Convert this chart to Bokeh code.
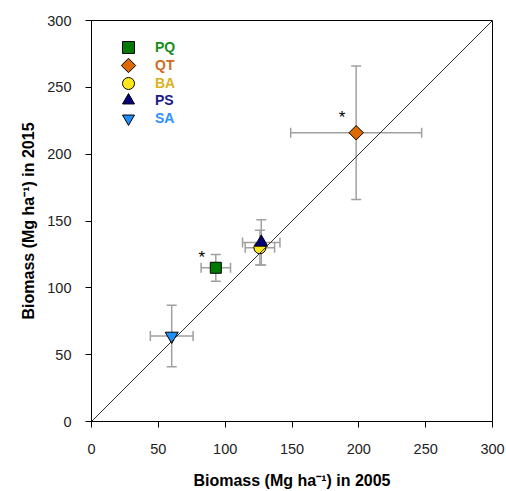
import math
from bokeh.plotting import figure
from bokeh.models import (ColumnDataSource, Range1d, FixedTicker, Whisker, TeeHead,
                          Slope, Legend, LegendItem)
from bokeh.embed import file_html
from bokeh.resources import INLINE
from bokeh.core.properties import value

# ---- data ----
groups = ["PQ", "QT", "BA", "PS", "SA"]
biomass_2005 = [93, 198, 126, 127, 60]
biomass_2015 = [115, 216, 130, 134, 64]
err_2005 = [11, 49, 11, 14, 16]
err_2015 = [10, 50, 13, 17, 23]
signif = ["*", "*", "", "", ""]
ticks = [0, 50, 100, 150, 200, 250, 300]

# ---- styles ----
markers = ["square", "diamond", "circle", "triangle", "inverted_triangle"]
sizes = [11, 15, 12, 13, 13]
fills = ["#007A00", "#DC6A00", "#FFE81A", "#00007A", "#1E8FFF"]
text_colors = ["#1A8C1A", "#D2691E", "#D9B21C", "#1A1A8C", "#2E8FFF"]
star_dx = [-14, -14, 0, 0, 0]
star_dy = [-10, -15, 0, 0, 0]
FONT = "Liberation Sans"
ERR = "#A0A0A0"

src = ColumnDataSource(dict(
    x=biomass_2005, y=biomass_2015,
    xl=[a - e for a, e in zip(biomass_2005, err_2005)],
    xu=[a + e for a, e in zip(biomass_2005, err_2005)],
    yl=[a - e for a, e in zip(biomass_2015, err_2015)],
    yu=[a + e for a, e in zip(biomass_2015, err_2015)],
    star=signif, dx=star_dx, dy=star_dy,
))

p = figure(width=506, height=491, output_backend="svg", toolbar_location=None,
           x_range=Range1d(0, 300), y_range=Range1d(0, 300),
           min_border_left=91, min_border_right=14, min_border_top=20, min_border_bottom=70)
p.background_fill_color = "white"
p.border_fill_color = "white"
p.outline_line_color = "black"
p.outline_line_width = 1
p.grid.visible = False

for ax in (p.xaxis[0], p.yaxis[0]):
    ax.ticker = FixedTicker(ticks=ticks)
    ax.minor_tick_line_color = None
    ax.major_tick_in = 0
    ax.major_tick_out = 6
    ax.axis_line_color = "black"
    ax.major_tick_line_color = "black"
    ax.major_label_text_font = FONT
    ax.major_label_text_font_size = "14.5px"
    ax.major_label_text_color = "#222222"
    ax.axis_label_text_font = FONT
    ax.axis_label_text_font_size = "16px"
    ax.axis_label_text_font_style = "bold"
    ax.axis_label_text_color = "black"

p.xaxis.axis_label = "Biomass (Mg ha\u207B\u00B9) in 2005"
p.yaxis.axis_label = "Biomass (Mg ha\u207B\u00B9) in 2015"
p.xaxis.major_label_standoff = 16
p.xaxis.axis_label_standoff = 15
p.yaxis.major_label_standoff = 14
p.yaxis.axis_label_standoff = 7

# 1:1 line
p.add_layout(Slope(gradient=1, y_intercept=0, line_color="#333333", line_width=1))

# error bars
p.add_layout(Whisker(source=src, base="y", lower="xl", upper="xu", dimension="width",
                     line_color=ERR, line_width=1.5,
                     lower_head=TeeHead(size=10, line_color=ERR, line_width=1.5),
                     upper_head=TeeHead(size=10, line_color=ERR, line_width=1.5)))
p.add_layout(Whisker(source=src, base="x", lower="yl", upper="yu", dimension="height",
                     line_color=ERR, line_width=1.5,
                     lower_head=TeeHead(size=10, line_color=ERR, line_width=1.5),
                     upper_head=TeeHead(size=10, line_color=ERR, line_width=1.5)))

renderers = []
for i, g in enumerate(groups):
    if markers[i] == "diamond" and hasattr(p, "ngon"):
        r = p.ngon(x=[biomass_2005[i]], y=[biomass_2015[i]], radius=5.4, n=4,
                   fill_color=fills[i], line_color="black", line_width=1)
    else:
        r = p.scatter(x=[biomass_2005[i]], y=[biomass_2015[i]], marker=markers[i],
                      size=sizes[i], fill_color=fills[i],
                      line_color="black", line_width=1)
    renderers.append(r)

# significance asterisks
p.text(x="x", y="y", text="star", source=src, x_offset="dx", y_offset="dy",
       text_align="center", text_baseline="middle", text_font=value(FONT),
       text_font_size="17px", text_color="black")

# legend: one small legend per group so that each label keeps its own colour
row_y = [47, 64.5, 82.5, 100, 118]
glyph_box = [30, 36, 30, 30, 30]
for i, g in enumerate(groups):
    gb = glyph_box[i]
    leg = Legend(items=[LegendItem(label=g, renderers=[renderers[i]])],
                 location=(37 - gb // 2, int(421 - (row_y[i] + gb / 2))),
                 orientation="vertical", padding=0, margin=0, spacing=0,
                 glyph_width=gb, glyph_height=gb, label_standoff=int(27 - gb // 2),
                 label_text_font=FONT, label_text_font_size="14px",
                 label_text_font_style="bold", label_text_color=text_colors[i],
                 border_line_color=None, background_fill_alpha=0)
    p.add_layout(leg, "center")

open("out.html", "w").write(file_html(p, INLINE))
